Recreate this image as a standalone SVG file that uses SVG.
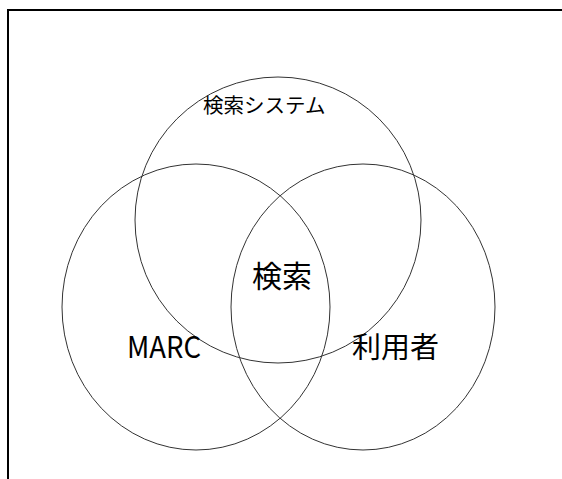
<svg xmlns="http://www.w3.org/2000/svg" width="562" height="479" viewBox="0 0 562 479">
  <style>
    .set { fill: none; stroke: #333; stroke-width: 1; }
    .lbl { font-family: "Noto Sans CJK JP", "Liberation Sans", sans-serif; fill: #000; }
  </style>
  <rect width="562" height="479" fill="#fff"/>
  <path d="M8,479 V10 H562" fill="none" stroke="#000" stroke-width="2"/>
  <g id="system">
    <ellipse class="set" cx="278" cy="220" rx="143" ry="143"/>
    <text class="lbl" x="203" y="113" font-size="20.5">検索システム</text>
  </g>
  <g id="marc">
    <ellipse class="set" cx="196" cy="307" rx="134" ry="143"/>
    <text class="lbl" x="127" y="358" font-size="30" textLength="74" lengthAdjust="spacingAndGlyphs" font-family="Liberation Sans, sans-serif">MARC</text>
  </g>
  <g id="user">
    <ellipse class="set" cx="363" cy="307" rx="132" ry="143"/>
    <text class="lbl" x="352" y="358" font-size="29">利用者</text>
  </g>
  <g id="search">
    <text class="lbl" x="252" y="287" font-size="30">検索</text>
  </g>
</svg>
